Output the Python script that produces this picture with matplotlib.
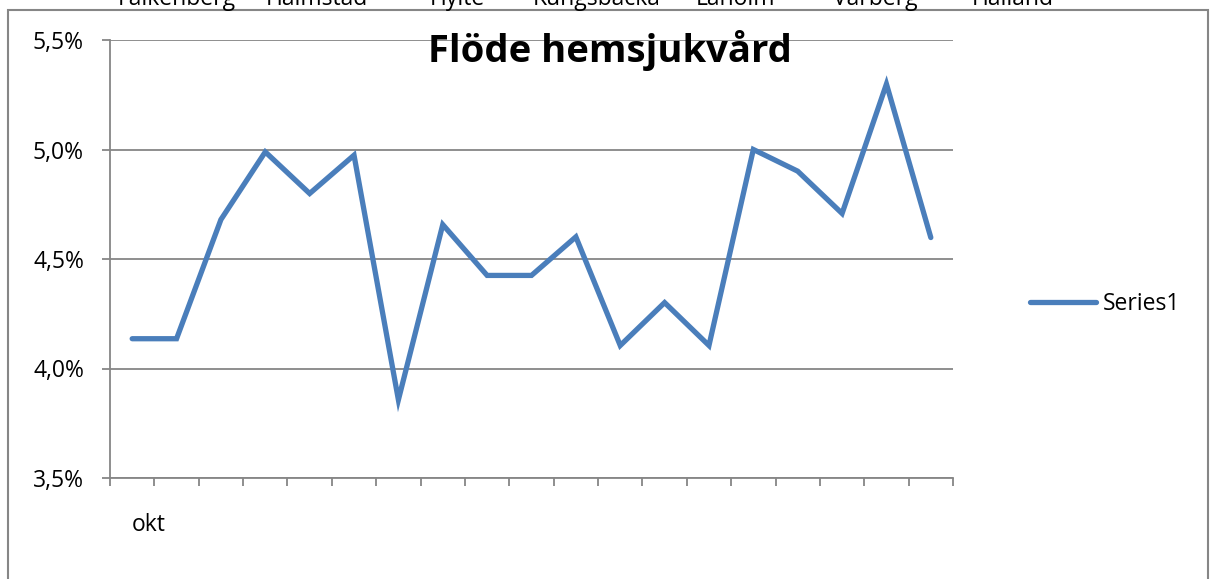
import numpy as np
import matplotlib.pyplot as plt
from matplotlib.patches import Rectangle

# data
kategorier = ['okt'] + [''] * 18
series1 = [4.136, 4.136, 4.680, 4.989, 4.799, 4.974, 3.857, 4.657, 4.425, 4.425,
           4.601, 4.105, 4.301, 4.105, 5.000, 4.901, 4.708, 5.299, 4.598]
orter = ['Falkenberg', 'Halmstad', 'Hylte', 'Kungsbacka', 'Laholm', 'Varberg', 'Halland']
orter_x = [177, 317, 457, 597, 736, 875, 1013]
yticks = [3.5, 4.0, 4.5, 5.0, 5.5]

plt.rcParams['font.family'] = ['Open Sans', 'DejaVu Sans']
fs = 16.5
W, H = 1211, 579
fig = plt.figure(figsize=(W / 100, H / 100), dpi=100)
ax = fig.add_axes([110 / W, 1 - 478 / H, (953 - 110) / W, (478 - 40) / H])

grå = '#868686'
x = np.arange(len(series1))
ax.plot(x, series1, color='#4A7EBB', lw=3.8, solid_joinstyle='miter', solid_capstyle='round',
        label='Series1')

ax.set_xlim(-0.5, len(series1) - 0.5)
ax.set_ylim(3.5, 5.5)
ax.set_yticks(yticks, labels=[f'{v:.1f}%'.replace('.', ',') for v in yticks], fontsize=fs)
ax.yaxis.grid(True, color=grå, lw=1.3)
ax.set_axisbelow(True)
ax.set_xticks(np.arange(-0.5, len(series1)), labels=[])
ax.set_xticks(x, labels=kategorier, minor=True, fontsize=fs)
for lab in ax.get_xticklabels(minor=True):
    lab.set_ha('left')
ax.tick_params(axis='x', which='minor', length=0, pad=25)
ax.tick_params(axis='x', which='major', direction='out', length=5.8, color=grå, width=1.3)
ax.tick_params(axis='y', direction='out', length=5.8, color=grå, width=1.3, pad=13)
for s in ['top', 'right']:
    ax.spines[s].set_visible(False)
for s in ['left', 'bottom']:
    ax.spines[s].set_color(grå)
    ax.spines[s].set_linewidth(1.3)

fig.text(610 / W, 1 - 62 / H, 'Flöde hemsjukvård', ha='center', va='baseline',
         fontsize=27.5, fontweight='bold')

for namn, px in zip(orter, orter_x):
    fig.text(px / W, 1 - 5 / H, namn, ha='center', va='baseline', fontsize=fs)

fig.patches.append(Rectangle((8 / W, -0.1), (1208 - 8) / W, 1.1 - 10 / H, transform=fig.transFigure,
                             fill=False, edgecolor=grå, lw=1.5))

fig.legend(loc='center left', bbox_to_anchor=(1030 / W, 1 - 304 / H), frameon=False,
           fontsize=fs, handlelength=2.9, handletextpad=0.26, borderpad=0, borderaxespad=0)

fig.savefig('out.png', dpi=100)
